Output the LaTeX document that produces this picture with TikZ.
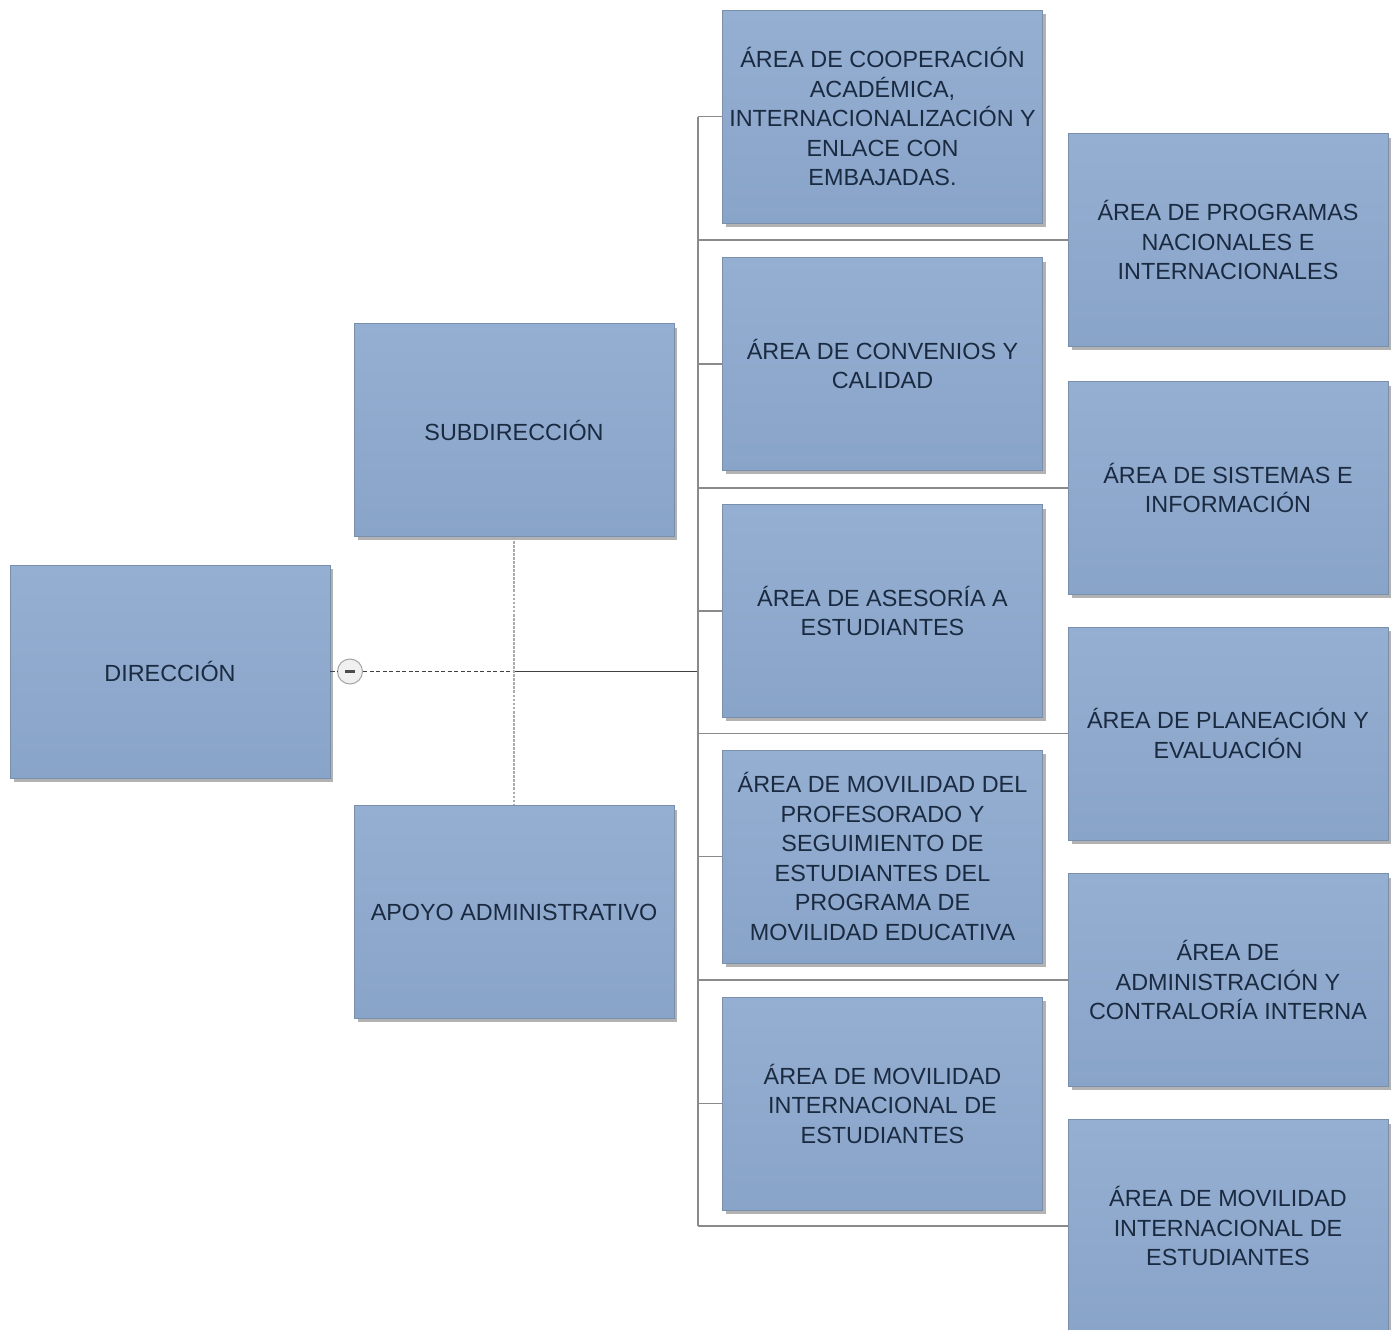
\documentclass[tikz,border=0pt]{standalone}
\usepackage{fontspec}
\setmainfont{Liberation Sans}
\usepackage{xcolor}
\usepackage{tikz}
\usetikzlibrary{positioning,shadows}
\definecolor{cajatop}{HTML}{95AFD2}
\definecolor{cajabot}{HTML}{89A4C9}
\definecolor{cajaborde}{HTML}{7A8FAC}
\definecolor{cajatexto}{HTML}{1A2A40}
\definecolor{linea}{HTML}{8A8A8A}

\begin{document}
\begin{tikzpicture}[
            x = 0.02cm, y = -0.02cm,
            caja/.style = {draw = cajaborde, line width = 0.5pt, top color = cajatop, bottom color = cajabot,
                minimum width = 6.4cm, minimum height = 4.26cm, inner sep = 0pt,
                align = center, text = cajatexto, font = \fontsize{13.3}{16.8}\selectfont,
                drop shadow = {shadow xshift = 0.7mm, shadow yshift = -0.8mm, opacity = 0.55, fill = black!55}},
            rama/.style = {draw = linea, line width = 0.8pt},
            principal/.style = {draw = black!75, line width = 0.6pt},
            guion/.style = {draw = black!75, line width = 0.6pt, dash pattern = on 2.5pt off 1.2pt},
            punteado/.style = {draw = gray!65, line width = 1.7pt, dash pattern = on 1.6pt off 0.7pt},
            boton/.style = {circle, draw = gray!70, line width = 0.6pt, fill = gray!12, minimum size = 0.5cm, inner sep = 0pt}]
        \useasboundingbox (0,0) rectangle (1393,1329);
        \node[caja] (ndir) at (170,671.5) {DIRECCIÓN};
        \node[caja] (nsub) at (514,430) {SUBDIRECCIÓN};
        \node[caja] (napo) at (514,912) {APOYO ADMINISTRATIVO};
        \node[caja] (nm1) at (882.5,116.5) {ÁREA DE COOPERACIÓN\\ACADÉMICA,\\INTERNACIONALIZACIÓN Y\\ENLACE CON\\EMBAJADAS.};
        \node[caja] (nm2) at (882.5,364) {ÁREA DE CONVENIOS Y\\CALIDAD};
        \node[caja] (nm3) at (882.5,611) {ÁREA DE ASESORÍA A\\ESTUDIANTES};
        \node[caja] (nm4) at (882.5,856.5) {ÁREA DE MOVILIDAD DEL\\PROFESORADO Y\\SEGUIMIENTO DE\\ESTUDIANTES DEL\\PROGRAMA DE\\MOVILIDAD EDUCATIVA};
        \node[caja] (nm5) at (882.5,1103.5) {ÁREA DE MOVILIDAD\\INTERNACIONAL DE\\ESTUDIANTES};
        \node[caja] (nr1) at (1228,240) {ÁREA DE PROGRAMAS\\NACIONALES E\\INTERNACIONALES};
        \node[caja] (nr2) at (1228,488) {ÁREA DE SISTEMAS E\\INFORMACIÓN};
        \node[caja] (nr3) at (1228,733.5) {ÁREA DE PLANEACIÓN Y\\EVALUACIÓN};
        \node[caja] (nr4) at (1228,980) {ÁREA DE\\ADMINISTRACIÓN Y\\CONTRALORÍA INTERNA};
        \node[caja] (nr5) at (1228,1226) {ÁREA DE MOVILIDAD\\INTERNACIONAL DE\\ESTUDIANTES};
        \node[boton] (nmenos) at (350,671.5) {};
        \draw[line width = 1.3pt, black!70] ([xshift = -1mm]nmenos.center) -- ([xshift = 1mm]nmenos.center);
        \coordinate (eje) at (698,0);
        \coordinate (cruce) at (nsub.south |- ndir.east);
        \draw[guion] (ndir.east) -- (nmenos.west);
        \draw[guion] (nmenos.east) -- (cruce);
        \draw[principal] (cruce) -- (eje |- ndir.east);
        \draw[punteado] (nsub.south) -- (napo.north);
        \draw[rama] (eje |- nm1.west) -- (eje |- nr5.west);
        \foreach \i in {1,...,5} {
            \draw[rama] (eje |- nm\i.west) -- (nm\i.west);
            \draw[rama] (eje |- nr\i.west) -- (nr\i.west);
        }
        \end{tikzpicture}
\end{document}
